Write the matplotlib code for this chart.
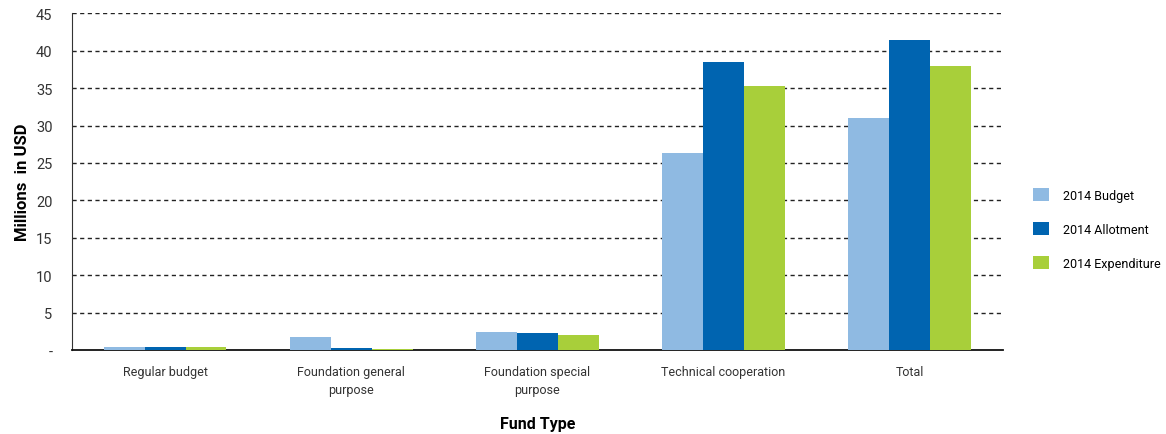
import matplotlib

matplotlib.use("Agg")
import matplotlib.pyplot as plt
import numpy as np

plt.rcParams["font.family"] = ["Roboto", "DejaVu Sans"]

categories = ["Regular budget", "Foundation general\npurpose",
              "Foundation special\npurpose", "Technical cooperation", "Total"]
series = ["2014 Budget", "2014 Allotment", "2014 Expenditure"]
budget = [0.45, 1.7, 2.45, 26.3, 31.0]
allotment = [0.45, 0.23, 2.23, 38.5, 41.4]
expenditure = [0.45, 0.2, 2.0, 35.25, 38.0]
colors = ["#8FBAE2", "#0064B0", "#A8CF3A"]
yticks = [0, 5, 10, 15, 20, 25, 30, 35, 40, 45]
ytick_labels = ["-"] + [str(v) for v in yticks[1:]]

fig = plt.figure(figsize=(11.66, 4.35), dpi=100)
ax = fig.add_axes([0.0617, 0.193, 0.7983, 0.774])

x = np.arange(len(categories))
w = 0.22
for i, (vals, lab, c) in enumerate(zip([budget, allotment, expenditure], series, colors)):
    ax.bar(x + (i - 1) * w, vals, width=w, color=c, label=lab, zorder=3)

ax.set_xlim(-0.5, len(categories) - 0.5)
ax.set_ylim(0, 45)
ax.set_yticks(yticks)
ax.set_yticklabels(ytick_labels, fontsize=10.5, color="#333333")
ax.set_xticks(x)
ax.set_xticklabels(categories, fontsize=9, color="#333333", linespacing=1.5)
ax.tick_params(axis="both", length=0)
ax.tick_params(axis="y", pad=14)
ax.tick_params(axis="x", pad=11)
for v in yticks[1:]:
    ax.axhline(v, color="#222222", lw=1, ls=(0, (3, 2.5)), zorder=1)
for s in ["top", "right"]:
    ax.spines[s].set_visible(False)
ax.spines["left"].set_color("#333333")
ax.spines["bottom"].set_color("#111111")
ax.spines["bottom"].set_linewidth(1.3)

ax.set_ylabel("Millions  in USD", fontsize=12, fontweight="bold", labelpad=4)
fig.text(0.461, 1 - 425 / 435, "Fund Type", fontsize=11.5, fontweight="bold",
         ha="center", va="center")

ax.legend(loc="center left", bbox_to_anchor=(1.02, 0.36), frameon=False,
          fontsize=9, handlelength=1.3, handleheight=1.3, labelspacing=1.6,
          handletextpad=1.1)

fig.savefig("out.png", dpi=100)
